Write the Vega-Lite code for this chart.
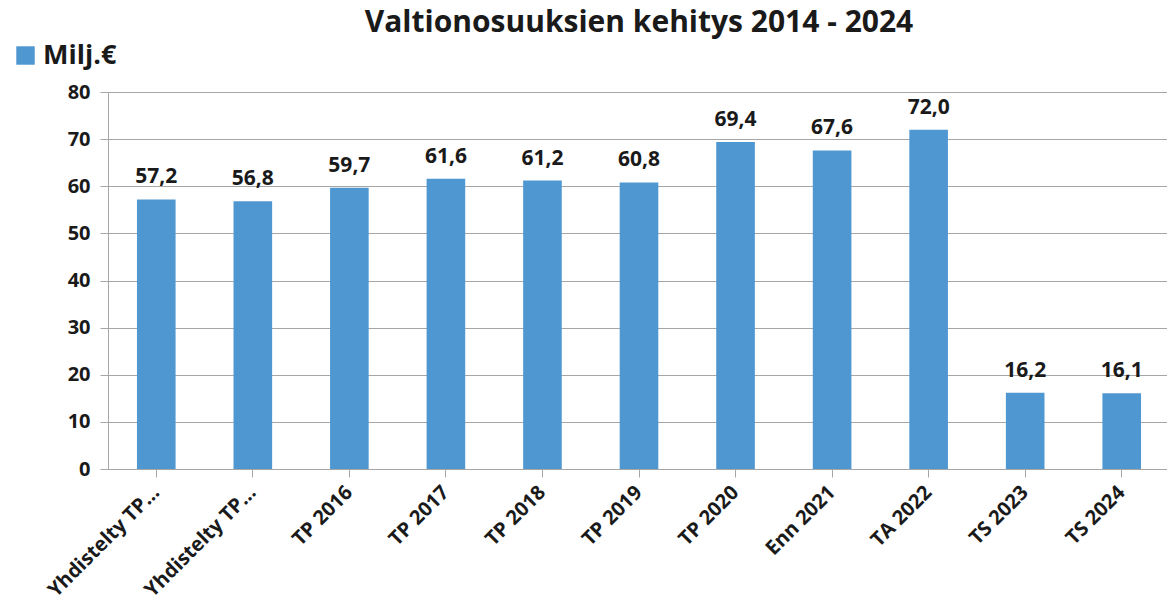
{
  "$schema": "https://vega.github.io/schema/vega-lite/v6.json",
  "width": 1062,
  "height": 377,
  "padding": {"left": 12, "top": 8, "right": 0, "bottom": 0},
  "background": "white",
  "config": {
    "font": "Open Sans",
    "view": {"stroke": null}
  },
  "title": {
    "text": "Valtionosuuksien kehitys 2014 - 2024",
    "fontSize": 30,
    "fontWeight": "bold",
    "color": "#1a1a1a",
    "anchor": "middle"
  },
  "data": {
    "values": [
      {"kohde": "Yhdistelty TP 2014", "arvo": 57.2, "teksti": "57,2"},
      {"kohde": "Yhdistelty TP 2015", "arvo": 56.8, "teksti": "56,8"},
      {"kohde": "TP 2016", "arvo": 59.7, "teksti": "59,7"},
      {"kohde": "TP 2017", "arvo": 61.6, "teksti": "61,6"},
      {"kohde": "TP 2018", "arvo": 61.2, "teksti": "61,2"},
      {"kohde": "TP 2019", "arvo": 60.8, "teksti": "60,8"},
      {"kohde": "TP 2020", "arvo": 69.4, "teksti": "69,4"},
      {"kohde": "Enn 2021", "arvo": 67.6, "teksti": "67,6"},
      {"kohde": "TA 2022", "arvo": 72.0, "teksti": "72,0"},
      {"kohde": "TS 2023", "arvo": 16.2, "teksti": "16,2"},
      {"kohde": "TS 2024", "arvo": 16.1, "teksti": "16,1"}
    ]
  },
  "encoding": {
    "x": {
      "field": "kohde",
      "type": "nominal",
      "sort": ["Yhdistelty TP 2014", "Yhdistelty TP 2015", "TP 2016", "TP 2017", "TP 2018", "TP 2019", "TP 2020", "Enn 2021", "TA 2022", "TS 2023", "TS 2024"],
      "scale": {"paddingInner": 0.6, "paddingOuter": 0.3},
      "axis": {
        "title": null,
        "labelAngle": -45,
        "labelAlign": "right",
        "labelBaseline": "middle",
        "labelFontSize": 20,
        "labelFontWeight": "bold",
        "labelColor": "#1a1a1a",
        "labelPadding": 12,
        "labelLimit": 152,
        "domainColor": "#a6a6a6",
        "tickColor": "#a6a6a6",
        "tickSize": 8,
        "grid": false
      }
    },
    "y": {
      "field": "arvo",
      "type": "quantitative",
      "scale": {"domain": [0, 80]},
      "axis": {
        "title": null,
        "tickCount": 8,
        "labelFontSize": 20,
        "labelFontWeight": "bold",
        "labelColor": "#1a1a1a",
        "labelPadding": 10,
        "domainColor": "#a6a6a6",
        "tickColor": "#a6a6a6",
        "tickSize": 8,
        "gridColor": "#a6a6a6"
      }
    }
  },
  "layer": [
    {
      "mark": {"type": "bar", "color": "#4F97D1"},
      "encoding": {
        "color": {
          "datum": "Milj.€",
          "type": "nominal",
          "scale": {"range": ["#4F97D1"]},
          "legend": {
            "title": null,
            "orient": "none",
            "legendX": -96,
            "legendY": -50,
            "symbolType": "square",
            "symbolSize": 340,
            "labelFontSize": 27,
            "labelFontWeight": "bold",
            "labelColor": "#1a1a1a"
          }
        }
      }
    },
    {
      "mark": {"type": "text", "baseline": "bottom", "dy": -12, "fontSize": 21, "fontWeight": "bold", "color": "#1a1a1a"},
      "encoding": {
        "text": {"field": "teksti", "type": "nominal"}
      }
    }
  ]
}
